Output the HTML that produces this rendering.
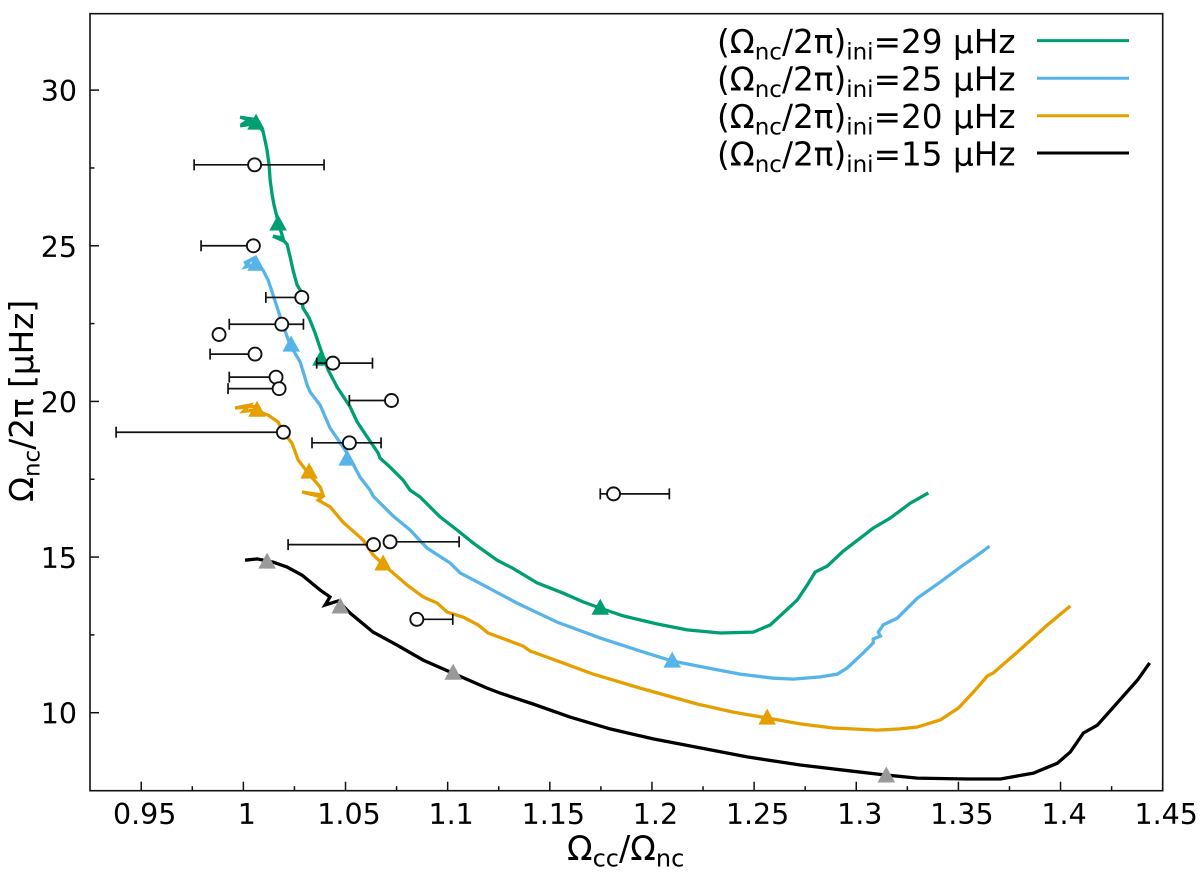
<!DOCTYPE html>
<html lang="en">
<head>
<meta charset="utf-8">
<title>Core-to-envelope rotation chart</title>
<style>
html,body{margin:0;padding:0;background:#fff}
svg{display:block}
text{font-family:"DejaVu Sans","Liberation Sans",sans-serif;fill:#000}
</style>
</head>
<body>
<svg id="chart" xmlns="http://www.w3.org/2000/svg" width="1200" height="884" viewBox="0 0 1200 884">
  <rect x="0" y="0" width="1200" height="884" fill="#fff"/>
  <g id="series-layer"></g>
  <g id="marker-layer"></g>
  <g id="obs-layer"></g>
  <g id="axis-layer"></g>
  <rect x="90" y="13.7" width="1072.7" height="777" fill="none" stroke="#111" stroke-width="1.6"/>
  <text x="567" y="860" font-size="33.5">Ω<tspan font-size="24" dy="6.5">cc</tspan><tspan dy="-6.5">/Ω</tspan><tspan font-size="24" dy="6.5">nc</tspan></text>
  <text transform="translate(33,502) rotate(-90)" font-size="32.7">Ω<tspan font-size="23" dy="6.5">nc</tspan><tspan dy="-6.5">/2π [µHz]</tspan></text>
  <g>
    <g>
      <text x="717" y="53" font-size="32.7">(Ω<tspan font-size="23" dy="6.5">nc</tspan><tspan dy="-6.5">/2π)</tspan><tspan font-size="23" dy="6.5">ini</tspan><tspan dy="-6.5">=29 µHz</tspan></text>
      <line x1="1037" x2="1129" y1="40.6" y2="40.6" stroke="#009E73" stroke-width="3"/>
    </g>
    <g>
      <text x="717" y="90.5" font-size="32.7">(Ω<tspan font-size="23" dy="6.5">nc</tspan><tspan dy="-6.5">/2π)</tspan><tspan font-size="23" dy="6.5">ini</tspan><tspan dy="-6.5">=25 µHz</tspan></text>
      <line x1="1037" x2="1129" y1="78.2" y2="78.2" stroke="#56B4E9" stroke-width="3"/>
    </g>
    <g>
      <text x="717" y="128" font-size="32.7">(Ω<tspan font-size="23" dy="6.5">nc</tspan><tspan dy="-6.5">/2π)</tspan><tspan font-size="23" dy="6.5">ini</tspan><tspan dy="-6.5">=20 µHz</tspan></text>
      <line x1="1037" x2="1129" y1="115.7" y2="115.7" stroke="#E69F00" stroke-width="3"/>
    </g>
    <g>
      <text x="717" y="165.5" font-size="32.7">(Ω<tspan font-size="23" dy="6.5">nc</tspan><tspan dy="-6.5">/2π)</tspan><tspan font-size="23" dy="6.5">ini</tspan><tspan dy="-6.5">=15 µHz</tspan></text>
      <line x1="1037" x2="1129" y1="153" y2="153" stroke="#000" stroke-width="3"/>
    </g>
  </g>
</svg>
<script>
// Tick values and labels
var xTickValues = [0.95, 1, 1.05, 1.1, 1.15, 1.2, 1.25, 1.3, 1.35, 1.4, 1.45];
var xTickLabels = ["0.95", "1", "1.05", "1.1", "1.15", "1.2", "1.25", "1.3", "1.35", "1.4", "1.45"];
var xMinorTicks = [0.975, 1.025, 1.075, 1.125, 1.175, 1.225, 1.275, 1.325, 1.375, 1.425];
var yTickValues = [10, 15, 20, 25, 30];
var yTickLabels = ["10", "15", "20", "25", "30"];
var yMinorTicks = [12.5, 17.5, 22.5, 27.5];

// Series 29 uHz
var ratio29 = [1.0052,0.9984,1.0035,1.0005,1.0040,0.9984,1.0043,1.0077,1.0096,1.0106,1.0116,1.0126,1.0131,1.0141,1.0150,1.0160,1.0170,1.0185,1.0194,1.0145,1.0199,1.0214,1.0229,1.0243,1.0263,1.0278,1.0292,1.0322,1.0351,1.0376,1.0415,1.0459,1.0523,1.0557,1.0606,1.0660,1.0669,1.0718,1.0782,1.0816,1.0865,1.0963,1.1046,1.1125,1.1242,1.1316,1.1438,1.1566,1.1663,1.1747,1.1859,1.2026,1.2173,1.2334,1.2496,1.2579,1.2642,1.2711,1.2760,1.2799,1.2858,1.2936,1.3020,1.3083,1.3166,1.3264,1.3353];
var omega29 = [29.00,29.13,29.08,28.95,28.92,28.85,28.91,28.84,28.68,28.39,28.07,27.59,27.11,26.63,26.31,26.05,25.76,25.44,25.25,25.31,25.15,25.05,24.64,24.22,23.74,23.58,23.00,22.68,22.20,21.71,21.01,20.46,19.82,19.34,18.86,18.34,18.18,17.89,17.47,17.15,16.93,16.29,15.87,15.45,14.90,14.65,14.17,13.84,13.56,13.36,13.11,12.85,12.66,12.56,12.59,12.82,13.20,13.62,14.10,14.52,14.71,15.19,15.61,15.93,16.25,16.73,17.06];

// Series 25 uHz
var ratio25 = [1.0062,1.0003,1.0035,1.0010,1.0057,1.0096,1.0121,1.0141,1.0165,1.0190,1.0229,1.0278,1.0302,1.0312,1.0327,1.0376,1.0424,1.0508,1.0571,1.0620,1.0635,1.0733,1.0816,1.0899,1.1012,1.1061,1.1174,1.1340,1.1536,1.1747,1.1943,1.2099,1.2271,1.2432,1.2594,1.2692,1.2824,1.2907,1.2956,1.3034,1.3083,1.3083,1.3118,1.3108,1.3132,1.3201,1.3299,1.3412,1.3510,1.3608,1.3652];
var omega25 = [24.60,24.44,24.55,24.32,24.41,24.22,23.90,23.51,23.03,22.52,21.81,21.27,20.75,20.53,20.30,19.88,19.15,18.34,17.57,17.15,16.96,16.32,15.87,15.29,14.81,14.49,14.10,13.52,12.91,12.40,11.98,11.66,11.44,11.24,11.11,11.08,11.15,11.24,11.44,11.92,12.24,12.37,12.46,12.59,12.82,13.04,13.68,14.20,14.68,15.13,15.35];

// Series 20 uHz
var ratio20 = [1.0072,0.9959,1.0030,1.0000,1.0057,1.0121,1.0170,1.0194,1.0238,1.0268,1.0317,1.0376,1.0390,1.0287,1.0385,1.0366,1.0425,1.0488,1.0586,1.0635,1.0694,1.0802,1.0880,1.0949,1.0998,1.1076,1.1149,1.1198,1.1370,1.1404,1.1551,1.1712,1.1942,1.2221,1.2398,1.2564,1.2726,1.2887,1.3103,1.3215,1.3299,1.3412,1.3500,1.3573,1.3642,1.3671,1.3789,1.3936,1.4048];
var omega20 = [19.85,19.79,19.88,19.68,19.72,19.56,19.34,19.02,18.66,18.12,17.70,17.25,16.99,17.09,16.93,16.83,16.61,16.12,15.55,15.07,14.71,14.10,13.72,13.52,13.23,13.07,12.82,12.56,12.14,11.98,11.63,11.24,10.79,10.28,10.02,9.83,9.64,9.51,9.44,9.48,9.54,9.77,10.15,10.66,11.18,11.28,11.95,12.82,13.43];

// Series 15 uHz
var ratio15 = [1.0008,1.0067,1.0145,1.0214,1.0287,1.0376,1.0424,1.0400,1.0464,1.0523,1.0635,1.0753,1.0880,1.1022,1.1193,1.1257,1.1418,1.1599,1.1795,1.2006,1.2236,1.2466,1.2726,1.2971,1.3142,1.3299,1.3544,1.3706,1.3867,1.3985,1.4048,1.4112,1.4180,1.4259,1.4377,1.4436];
var omega15 = [14.90,14.94,14.84,14.68,14.42,13.94,13.72,13.46,13.59,13.20,12.59,12.17,11.69,11.28,10.79,10.63,10.28,9.86,9.48,9.16,8.87,8.58,8.32,8.13,8.00,7.90,7.87,7.87,8.06,8.38,8.74,9.35,9.60,10.18,11.05,11.60];

// Triangle markers
var markerRatio29 = [1.0062,1.0170,1.0380,1.1747];
var markerOmega29 = [28.97,25.73,21.39,13.39];
var markerRatio25 = [1.0062,1.0234,1.0508,1.2099];
var markerOmega25 = [24.44,21.84,18.18,11.69];
var markerRatio20 = [1.0067,1.0322,1.0684,1.2564];
var markerOmega20 = [19.75,17.76,14.81,9.86];
var markerRatio15 = [1.0116,1.0474,1.1027,1.3147];
var markerOmega15 = [14.87,13.43,11.30,8.00];

// Observed stars with one- or two-sided horizontal error bars (null = no bar on that side)
var obsRatio = [1.0055,1.0049,1.0286,1.0188,0.9881,1.0057,1.0438,1.0160,1.0175,1.0725,1.0196,1.0519,1.1812,1.0637,1.0718,1.0849];
var obsOmega = [27.60,25.00,23.34,22.48,22.15,21.52,21.23,20.78,20.41,20.03,19.01,18.67,17.03,15.40,15.49,13.00];
var obsLow = [0.9759,0.9793,1.0110,0.9931,null,0.9837,1.0359,0.9931,0.9925,1.0519,0.9377,1.0336,1.1747,1.0219,null,null];
var obsHigh = [1.0395,null,null,1.0294,null,null,1.0632,null,null,null,null,1.0674,1.2085,null,1.1056,1.1025];

var NS = "http://www.w3.org/2000/svg";
var X_MIN = 0.92493, X_MAX = 1.45, Y_MIN = 7.495, Y_MAX = 32.455;
var LEFT = 90, RIGHT = 1162.7, TOP = 13.7, BOTTOM = 790.7;

function xScale(v) { return LEFT + (v - X_MIN) / (X_MAX - X_MIN) * (RIGHT - LEFT); }
function yScale(v) { return BOTTOM - (v - Y_MIN) / (Y_MAX - Y_MIN) * (BOTTOM - TOP); }
function make(tag, attrs) {
  var el = document.createElementNS(NS, tag);
  for (var k in attrs) el.setAttribute(k, attrs[k]);
  return el;
}

var seriesLayer = document.getElementById("series-layer");
var markerLayer = document.getElementById("marker-layer");
var obsLayer = document.getElementById("obs-layer");
var axisLayer = document.getElementById("axis-layer");

function drawSeries(name, xs, ys, color) {
  var d = xs.map(function (v, i) { return (i ? "L" : "M") + xScale(v).toFixed(2) + " " + yScale(ys[i]).toFixed(2); }).join(" ");
  var el = make("path", { d: d, fill: "none", stroke: color, "stroke-width": 3.3, "stroke-linejoin": "miter", "stroke-miterlimit": 8 });
  
  
  seriesLayer.appendChild(el);
}
function drawMarkers(name, xs, ys, color) {
  xs.forEach(function (v, i) {
    var cx = xScale(v), cy = yScale(ys[i]);
    var pts = cx + "," + (cy - 8.5) + " " + (cx - 8.8) + "," + (cy + 7.5) + " " + (cx + 8.8) + "," + (cy + 7.5);
    var el = make("polygon", { points: pts, fill: color });
    
    
    markerLayer.appendChild(el);
  });
}

drawSeries("series-line-29", ratio29, omega29, "#009E73");
drawSeries("series-line-25", ratio25, omega25, "#56B4E9");
drawSeries("series-line-20", ratio20, omega20, "#E69F00");
drawSeries("series-line-15", ratio15, omega15, "#000000");
drawMarkers("marker-29", markerRatio29, markerOmega29, "#009E73");
drawMarkers("marker-25", markerRatio25, markerOmega25, "#56B4E9");
drawMarkers("marker-20", markerRatio20, markerOmega20, "#E69F00");
drawMarkers("marker-15", markerRatio15, markerOmega15, "#999999");

function drawBar(cx, cy, end) {
  var px = xScale(end);
  var line = make("line", { x1: cx, x2: px, y1: cy, y2: cy, stroke: "#111", "stroke-width": 1.7 });
  
  
  obsLayer.appendChild(line);
  var cap = make("line", { x1: px, x2: px, y1: cy - 5.5, y2: cy + 5.5, stroke: "#111", "stroke-width": 1.7 });
  
  
  obsLayer.appendChild(cap);
}
obsRatio.forEach(function (v, i) {
  var cx = xScale(v), cy = yScale(obsOmega[i]);
  if (obsLow[i] !== null) drawBar(cx, cy, obsLow[i]);
  if (obsHigh[i] !== null) drawBar(cx, cy, obsHigh[i]);
});
obsRatio.forEach(function (v, i) {
  var dot = make("circle", { cx: xScale(v), cy: yScale(obsOmega[i]), r: 6.5, fill: "#fff", stroke: "#111", "stroke-width": 1.9 });
  
  
  obsLayer.appendChild(dot);
});

function drawTick(x1, y1, x2, y2, name) {
  var t = make("line", { x1: x1, y1: y1, x2: x2, y2: y2, stroke: "#111", "stroke-width": 1.5 });
  
  
  axisLayer.appendChild(t);
}
xTickValues.forEach(function (v, i) {
  var px = xScale(v);
  drawTick(px, BOTTOM, px, BOTTOM - 9, "x-major-tick");
  var lab = make("text", { x: px + 3.5, y: 824, "font-size": 28.5, "text-anchor": "middle" });
  
  
  lab.textContent = xTickLabels[i];
  axisLayer.appendChild(lab);
});
xMinorTicks.forEach(function (v) {
  var px = xScale(v);
  drawTick(px, BOTTOM, px, BOTTOM - 4.5, "x-minor-tick");
});
yTickValues.forEach(function (v, i) {
  var py = yScale(v);
  drawTick(LEFT, py, LEFT + 9, py, "y-major-tick");
  var lab = make("text", { x: 77, y: py + 11, "font-size": 28.5, "text-anchor": "end" });
  
  
  lab.textContent = yTickLabels[i];
  axisLayer.appendChild(lab);
});
yMinorTicks.forEach(function (v) {
  var py = yScale(v);
  drawTick(LEFT, py, LEFT + 4.5, py, "y-minor-tick");
});
</script>
</body>
</html>
